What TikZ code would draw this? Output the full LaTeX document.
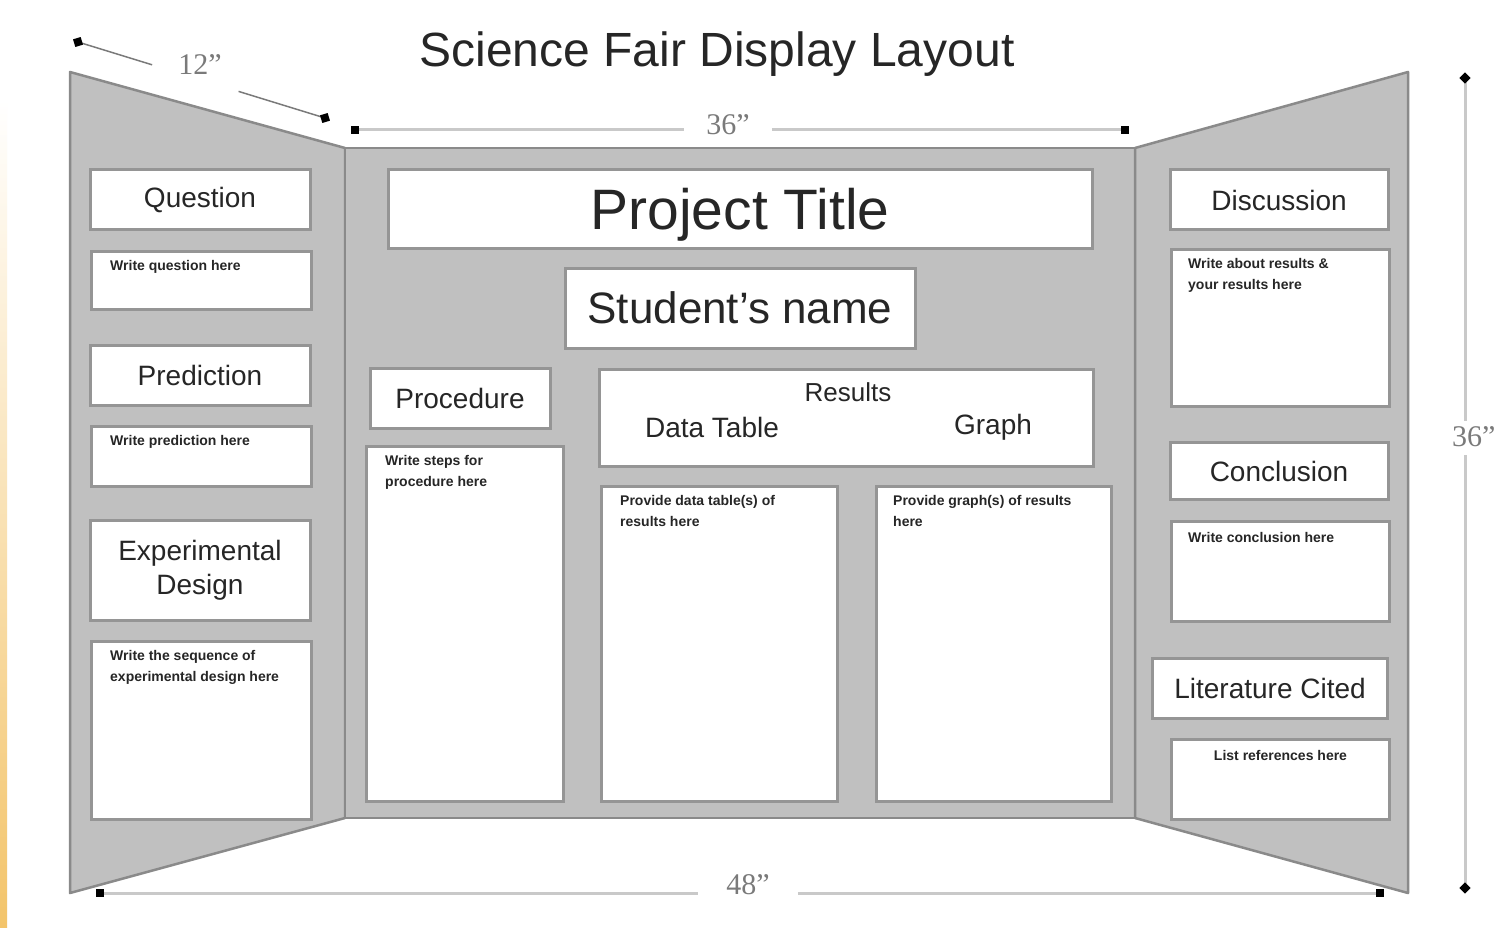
\documentclass[tikz,border=0pt]{standalone}
\usepackage{fontspec}
\usetikzlibrary{calc}
\setmainfont{Liberation Sans}
\newfontfamily\dimfont{Liberation Serif}
\definecolor{panel}{HTML}{C0C0C0}
\definecolor{panelEdge}{HTML}{8A8A8A}
\definecolor{boxEdge}{HTML}{959595}
\definecolor{ink}{HTML}{262626}
\definecolor{dimline}{HTML}{C9C9C9}
\definecolor{dimtext}{HTML}{7A7A7A}
\definecolor{orng}{HTML}{F3C46A}
\tikzset{
  panelshape/.style={fill=panel, draw=panelEdge, line width=2.5pt, line join=round},
  hbox/.style={draw=boxEdge, fill=white, line width=3pt, inner sep=0pt, text=ink,
     font=\fontsize{28}{32}\selectfont, align=center},
  wbox/.style={draw=boxEdge, fill=white, line width=3pt, inner sep=0pt, anchor=north west},
  small/.style={anchor=north west, inner sep=0pt, text=ink, align=left,
     font=\fontsize{14}{21}\selectfont\bfseries},
  dimseg/.style={draw=dimline, line width=3pt},
  dimend/.style={fill=black, draw=none, minimum size=8pt, inner sep=0pt},
  dimlabel/.style={text=dimtext, font=\dimfont\fontsize{30}{30}\selectfont, inner sep=0pt},
}
\begin{document}
\begin{tikzpicture}[x=1pt,y=-1pt]
\useasboundingbox (0,0) rectangle (1499,928);
\fill[white] (0,0) rectangle (1499,928);
\shade[top color=white, bottom color=orng] (0,100) rectangle (7,928);

% title
\node[text=ink, font=\fontsize{48}{52}\selectfont] (title) at (717,54) {Science Fair Display Layout};

% panels
\path[panelshape] (70,72) -- (345,148) -- (345,818) -- (70,893) -- cycle;
\path[panelshape] (345,148) rectangle (1135,818);
\path[panelshape] (1135,148) -- (1408,72) -- (1408,893) -- (1135,818) -- cycle;

% left panel
\node[hbox, minimum width=220pt, minimum height=60pt] (q) at (200,200) {Question};
\node[wbox, minimum width=220pt, minimum height=58pt] (qw) at (90,250) {};
\node[small] (qwt) at ([xshift=20pt,yshift=-10pt]qw.north west) {Write question here};
\node[hbox, minimum width=220pt, minimum height=60pt] (p) at (200,375) {Prediction};
\node[wbox, minimum width=220pt, minimum height=60pt] (pw) at (90,425) {};
\node[small] (pwt) at ([xshift=20pt,yshift=-10pt]pw.north west) {Write prediction here};
\node[hbox, minimum width=220pt, minimum height=100pt, font=\fontsize{28}{34}\selectfont] (e) at (200,570) {Experimental\\Design};
\node[wbox, minimum width=220pt, minimum height=178pt] (ew) at (90,640) {};
\node[small] (ewt) at ([xshift=20pt,yshift=-10pt]ew.north west) {Write the sequence of\\experimental design here};

% center panel
\node[hbox, minimum width=704pt, minimum height=78pt, text depth=0pt, font=\fontsize{57}{60}\selectfont] (pt) at (740,209) {Project Title};
\node[hbox, minimum width=350pt, minimum height=80pt, font=\fontsize{44}{48}\selectfont] (sn) at (740,308) {Student’s name};
\node[hbox, minimum width=180pt, minimum height=60pt] (pr) at (460,398) {Procedure};
\node[wbox, minimum width=197pt, minimum height=355pt] (prw) at (365,445) {};
\node[small] (prwt) at ([xshift=20pt,yshift=-10pt]prw.north west) {Write steps for\\procedure here};
\node[wbox, minimum width=494pt, minimum height=97pt] (res) at (598,368) {};
\node[text=ink, font=\fontsize{26}{30}\selectfont, inner sep=0pt] (rest) at (848,392) {Results};
\node[text=ink, font=\fontsize{28}{30}\selectfont, inner sep=0pt] (dtt) at (712,427) {Data Table};
\node[text=ink, font=\fontsize{28}{30}\selectfont, inner sep=0pt] (grt) at (993,427) {Graph};
\node[wbox, minimum width=236pt, minimum height=315pt] (dw) at (600,485) {};
\node[small] (dwt) at ([xshift=20pt,yshift=-10pt]dw.north west) {Provide data table(s) of\\results here};
\node[wbox, minimum width=235pt, minimum height=315pt] (gw) at (875,485) {};
\node[small] (gwt) at ([xshift=18pt,yshift=-10pt]gw.north west) {Provide graph(s) of results\\here};

% right panel
\node[hbox, minimum width=218pt, minimum height=60pt] (d) at (1279,200) {Discussion};
\node[wbox, minimum width=218pt, minimum height=157pt] (dsw) at (1170,248) {};
\node[small] (dswt) at ([xshift=18pt,yshift=-10pt]dsw.north west) {Write about results \&\\your results here};
\node[hbox, minimum width=218pt, minimum height=57pt] (c) at (1279,471) {Conclusion};
\node[wbox, minimum width=218pt, minimum height=100pt] (cw) at (1170,520) {};
\node[small] (cwt) at ([xshift=18pt,yshift=-12pt]cw.north west) {Write conclusion here};
\node[hbox, minimum width=235pt, minimum height=60pt] (l) at (1270,688) {Literature Cited};
\node[wbox, minimum width=218pt, minimum height=80pt] (lw) at (1170,738) {};
\node[small, anchor=north] (lwt) at ([yshift=-12pt]lw.north) {List references here};

% dimension: 12"
\coordinate (a1) at (78,42);
\coordinate (a2) at (325,118);
\draw[draw=dimtext, line width=1.5pt] (a1) -- ($(a1)!0.3!(a2)$);
\draw[draw=dimtext, line width=1.5pt] ($(a1)!0.65!(a2)$) -- (a2);
\node[dimend, rotate=17] (a1e) at (a1) {};
\node[dimend, rotate=17] (a2e) at (a2) {};
\node[dimlabel] (a12) at (200,65) {12”};

% dimension: 36" top
\coordinate (b1) at (355,130);
\coordinate (b2) at (1125,130);
\node[dimlabel] (b36) at (728,125) {36”};
\draw[dimseg] (b1) -- ($(b36.west |- b1)+(-22,0)$);
\draw[dimseg] ($(b36.east |- b1)+(22,0)$) -- (b2);
\node[dimend] (b1e) at (b1) {};
\node[dimend] (b2e) at (b2) {};

% dimension: 48"
\coordinate (c1) at (100,893);
\coordinate (c2) at (1380,893);
\node[dimlabel] (c48) at (748,885) {48”};
\draw[dimseg] (c1) -- ($(c48.west |- c1)+(-28,0)$);
\draw[dimseg] ($(c48.east |- c1)+(28,0)$) -- (c2);
\node[dimend] (c1e) at (c1) {};
\node[dimend] (c2e) at (c2) {};

% dimension: 36" right
\coordinate (d1) at (1465,78);
\coordinate (d2) at (1465,888);
\node[dimlabel, anchor=west] (d36) at (1452,437) {36”};
\draw[dimseg] (d1) -- ($(d1 |- d36.north)+(0,-6)$);
\draw[dimseg] ($(d1 |- d36.south)+(0,8)$) -- (d2);
\node[dimend, rotate=45] (d1e) at (d1) {};
\node[dimend, rotate=45] (d2e) at (d2) {};
\end{tikzpicture}
\end{document}
